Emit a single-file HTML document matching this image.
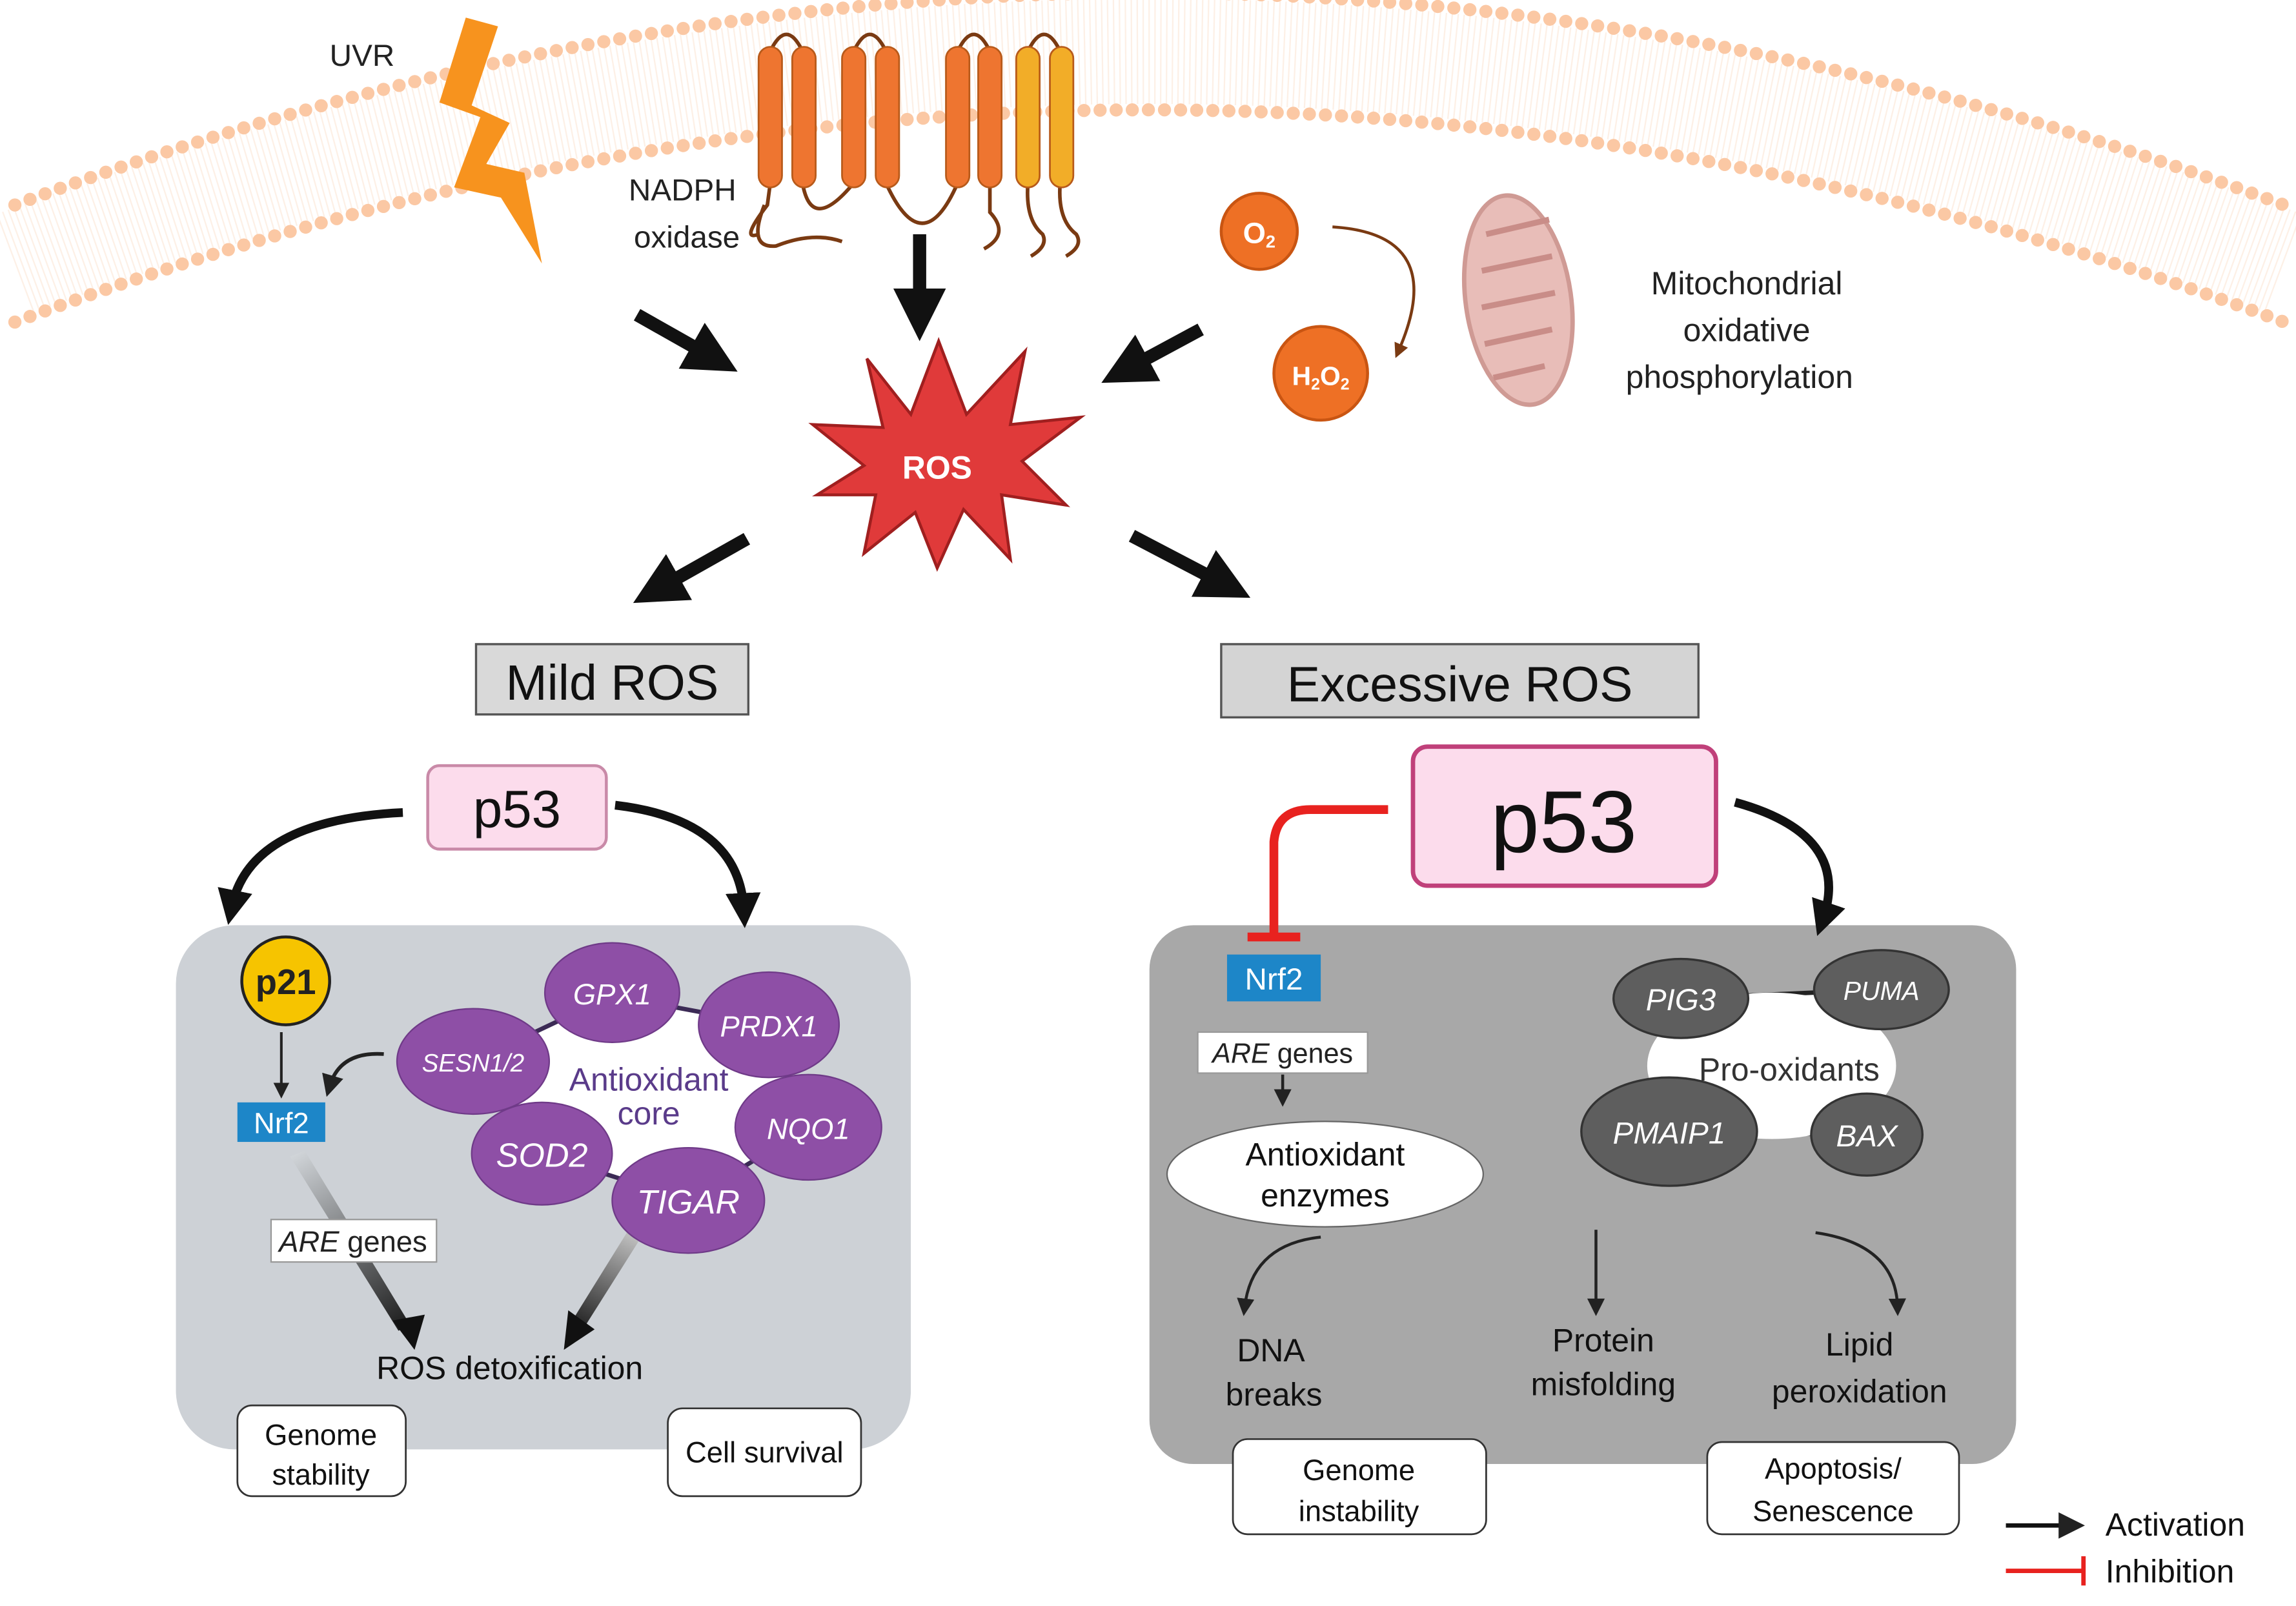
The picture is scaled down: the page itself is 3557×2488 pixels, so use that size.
<!DOCTYPE html>
<html><head><meta charset="utf-8"><style>
html,body{margin:0;padding:0;background:#fff;}
svg{display:block;}
text{font-family:"Liberation Sans","DejaVu Sans",sans-serif;}
</style></head><body>
<svg width="3557" height="2488" viewBox="0 0 1568 1097" xmlns="http://www.w3.org/2000/svg">
<defs>
<marker id="ah" viewBox="0 0 10 10" refX="5" refY="5" markerWidth="4" markerHeight="4" orient="auto"><path d="M0,0 L10,5 L0,10 z" fill="#111"/></marker>
<marker id="ahs" viewBox="0 0 10 10" refX="5" refY="5" markerWidth="6" markerHeight="6" orient="auto"><path d="M0,0 L10,5 L0,10 z" fill="#222"/></marker>
<marker id="ahb" viewBox="0 0 10 10" refX="5" refY="5" markerWidth="5" markerHeight="5" orient="auto"><path d="M0,0 L10,5 L0,10 z" fill="#7a3a12"/></marker>
<linearGradient id="g2" gradientUnits="userSpaceOnUse" x1="200" y1="790" x2="280" y2="915"><stop offset="0" stop-color="#d0d4d8"/><stop offset="1" stop-color="#111"/></linearGradient>
<linearGradient id="g3" gradientUnits="userSpaceOnUse" x1="430" y1="845" x2="395" y2="915"><stop offset="0" stop-color="#bbb"/><stop offset="1" stop-color="#111"/></linearGradient>
</defs>
<rect width="1568" height="1097" fill="#fff"/>
<!-- membrane -->
<path d="M10,180 Q784,-110 1560,180" fill="none" stroke="#fdf0e6" stroke-width="72" stroke-dasharray="1 3"/>
<path d="M10,140 Q784,-150 1560,140" fill="none" stroke="#fbc8a4" stroke-width="9" stroke-linecap="round" stroke-dasharray="0 11"/>
<path d="M10,220 Q784,-70 1560,220" fill="none" stroke="#fbc8a4" stroke-width="9" stroke-linecap="round" stroke-dasharray="0 11"/>
<!-- UVR -->
<text x="225" y="45" font-size="21" fill="#222">UVR</text>
<polygon points="318,12 300,70 328,80 310,128 342,135 370,180 358,118 332,112 348,84 322,72 340,18" fill="#f7931e"/>
<!-- NADPH oxidase -->
<g stroke="#7a3a12" stroke-width="2.5" fill="none">
<path d="M526,35 Q537,12 548,35"/><path d="M583,35 Q594,12 605,35"/><path d="M654,35 Q665,12 676,35"/><path d="M702,35 Q713,12 724,35"/>
<path d="M548,125 Q554,160 583,125"/><path d="M605,125 Q630,180 654,125"/>
<path d="M526,125 L524,140 Q505,165 518,160 M522,140 Q510,170 530,168 Q555,158 575,165"/>
<path d="M676,125 L676,145 Q690,160 672,170"/><path d="M702,125 Q700,150 712,160 Q716,168 704,175"/><path d="M724,125 Q722,150 735,160 Q740,168 728,175"/>
</g>
<g stroke="#b85a1a" stroke-width="1.2">
<rect x="518" y="32" width="16" height="96" rx="8" fill="#ee7530"/><rect x="541" y="32" width="16" height="96" rx="8" fill="#ee7530"/>
<rect x="575" y="32" width="16" height="96" rx="8" fill="#ee7530"/><rect x="598" y="32" width="16" height="96" rx="8" fill="#ee7530"/>
<rect x="646" y="32" width="16" height="96" rx="8" fill="#ee7530"/><rect x="668" y="32" width="16" height="96" rx="8" fill="#ee7530"/>
<rect x="694" y="32" width="16" height="96" rx="8" fill="#f2ad28"/><rect x="717" y="32" width="16" height="96" rx="8" fill="#f2ad28"/>
</g>
<text x="466" y="137" font-size="21" fill="#222" text-anchor="middle">NADPH</text>
<text x="469" y="169" font-size="21" fill="#222" text-anchor="middle">oxidase</text>
<!-- arrows to ROS -->
<g stroke="#111" stroke-width="9">
<line x1="435" y1="215" x2="488" y2="245" marker-end="url(#ah)"/>
<line x1="628" y1="160" x2="628" y2="215" marker-end="url(#ah)"/>
<line x1="820" y1="225" x2="768" y2="253" marker-end="url(#ah)"/>
<line x1="510" y1="368" x2="448" y2="403" marker-end="url(#ah)"/>
<line x1="773" y1="366" x2="838" y2="400" marker-end="url(#ah)"/>
</g>
<!-- O2 / H2O2 / mito -->
<circle cx="860" cy="158" r="26" fill="#ee7025" stroke="#c95512" stroke-width="2"/>
<text x="860" y="166" font-size="20" fill="#fff" text-anchor="middle" font-weight="bold">O<tspan font-size="12" dy="3">2</tspan></text>
<circle cx="902" cy="255" r="32" fill="#ee7025" stroke="#c95512" stroke-width="2"/>
<text x="902" y="263" font-size="18" fill="#fff" text-anchor="middle" font-weight="bold">H<tspan font-size="11" dy="3">2</tspan><tspan dy="-3">O</tspan><tspan font-size="11" dy="3">2</tspan></text>
<path d="M910,155 Q990,160 955,240" fill="none" stroke="#7a3a12" stroke-width="2" marker-end="url(#ahb)"/>
<ellipse cx="1037" cy="205" rx="36" ry="72" fill="#e8bdb8" stroke="#cf9a94" stroke-width="3" transform="rotate(-8 1037 205)"/>
<path d="M1015,160 L1058,150 M1012,185 L1060,175 M1012,210 L1062,200 M1014,235 L1060,225 M1020,258 L1055,250" stroke="#c98d88" stroke-width="4"/>
<text x="1193" y="201" font-size="22" fill="#222" text-anchor="middle">Mitochondrial</text>
<text x="1193" y="233" font-size="22" fill="#222" text-anchor="middle">oxidative</text>
<text x="1188" y="265" font-size="22" fill="#222" text-anchor="middle">phosphorylation</text>
<!-- ROS star -->
<polygon points="641,233 660,283 700,240 690,290 738,285 698,315 728,345 684,338 690,382 658,348 640,388 625,350 590,378 598,338 558,338 590,318 555,290 603,292 592,245 622,283" fill="#e03a3a" stroke="#a01f1f" stroke-width="2"/>
<text x="640" y="327" font-size="22" fill="#fff" text-anchor="middle" font-weight="bold">ROS</text>
<!-- header boxes -->
<rect x="325" y="440" width="186" height="48" fill="#d9d9d9" stroke="#555" stroke-width="1.5"/>
<text x="418" y="478" font-size="34" fill="#111" text-anchor="middle">Mild ROS</text>
<rect x="834" y="440" width="326" height="50" fill="#d4d4d4" stroke="#555" stroke-width="1.5"/>
<text x="997" y="479" font-size="34" fill="#111" text-anchor="middle">Excessive ROS</text>
<!-- panels -->
<rect x="120" y="632" width="502" height="358" rx="40" fill="#cdd1d6"/>
<rect x="785" y="632" width="592" height="368" rx="30" fill="#a8a8a8"/>
<!-- left p53 -->
<path d="M275,555 Q170,560 158,620" fill="none" stroke="#111" stroke-width="6" marker-end="url(#ah)"/>
<path d="M420,550 Q505,560 508,622" fill="none" stroke="#111" stroke-width="6" marker-end="url(#ah)"/>
<rect x="292" y="523" width="122" height="57" rx="8" fill="#fcdcec" stroke="#c98aa8" stroke-width="2"/>
<text x="353" y="565" font-size="36" fill="#111" text-anchor="middle">p53</text>
<!-- right p53 -->
<path d="M1185,548 Q1265,570 1245,628" fill="none" stroke="#111" stroke-width="6" marker-end="url(#ah)"/>
<path d="M948,553 L895,553 Q872,553 870,575 L870,638" fill="none" stroke="#e8221f" stroke-width="6"/>
<line x1="852" y1="640" x2="888" y2="640" stroke="#e8221f" stroke-width="6"/>
<rect x="965" y="510" width="207" height="95" rx="10" fill="#fcdcec" stroke="#c0407a" stroke-width="3"/>
<text x="1068" y="582" font-size="60" fill="#111" text-anchor="middle">p53</text>
<!-- p21 / Nrf2 left -->
<circle cx="195" cy="670" r="30" fill="#f6c400" stroke="#222" stroke-width="2"/>
<text x="195" y="679" font-size="24" fill="#222" text-anchor="middle" font-weight="bold">p21</text>
<line x1="192" y1="705" x2="192" y2="745" stroke="#222" stroke-width="1.8" marker-end="url(#ahs)"/>
<path d="M262,720 Q232,718 225,742" fill="none" stroke="#222" stroke-width="2.5" marker-end="url(#ahs)"/>
<rect x="162" y="753" width="60" height="27" fill="#1d86c8"/>
<text x="192" y="774" font-size="20" fill="#fff" text-anchor="middle">Nrf2</text>
<polygon points="198,790 208,786 280,905 272,909" fill="url(#g2)"/>
<polygon points="268,902 290,898 283,922" fill="#111"/>
<rect x="185" y="833" width="113" height="29" fill="#fff" stroke="#999"/>
<text x="241" y="855" font-size="20" fill="#222" text-anchor="middle"><tspan font-style="italic">ARE</tspan> genes</text>
<polygon points="428,842 436,848 400,905 392,900" fill="url(#g3)"/>
<polygon points="388,895 406,908 385,922" fill="#111"/>
<!-- antioxidant ring -->
<polygon points="418,680 525,700 552,770 470,820 370,788 323,725" fill="#fff" stroke="#3b2a55" stroke-width="3" stroke-linejoin="round"/>
<g fill="#8e4fa6" stroke="#6f3a88" stroke-width="1">
<ellipse cx="418" cy="678" rx="46" ry="34"/><ellipse cx="525" cy="700" rx="48" ry="36"/><ellipse cx="552" cy="770" rx="50" ry="36"/>
<ellipse cx="470" cy="820" rx="52" ry="36"/><ellipse cx="370" cy="788" rx="48" ry="35"/><ellipse cx="323" cy="725" rx="52" ry="36"/>
</g>
<g fill="#fff" font-style="italic" text-anchor="middle">
<text x="418" y="686" font-size="20">GPX1</text><text x="525" y="708" font-size="20">PRDX1</text><text x="552" y="778" font-size="20">NQO1</text>
<text x="470" y="829" font-size="23">TIGAR</text><text x="370" y="797" font-size="23">SOD2</text><text x="323" y="732" font-size="17">SESN1/2</text>
</g>
<text x="443" y="745" font-size="22" fill="#5a3b8a" text-anchor="middle">Antioxidant</text>
<text x="443" y="768" font-size="22" fill="#5a3b8a" text-anchor="middle">core</text>
<text x="348" y="942" font-size="22" fill="#111" text-anchor="middle">ROS detoxification</text>
<rect x="162" y="960" width="115" height="62" rx="10" fill="#fff" stroke="#333" stroke-width="1.2"/>
<text x="219" y="987" font-size="20" fill="#111" text-anchor="middle">Genome</text>
<text x="219" y="1014" font-size="20" fill="#111" text-anchor="middle">stability</text>
<rect x="456" y="962" width="132" height="60" rx="10" fill="#fff" stroke="#333" stroke-width="1.2"/>
<text x="522" y="999" font-size="20" fill="#111" text-anchor="middle">Cell survival</text>
<!-- right panel -->
<rect x="838" y="652" width="64" height="32" fill="#1d86c8"/>
<text x="870" y="676" font-size="21" fill="#fff" text-anchor="middle">Nrf2</text>
<rect x="818" y="705" width="116" height="28" fill="#fff" stroke="#999"/>
<text x="876" y="726" font-size="19" fill="#222" text-anchor="middle"><tspan font-style="italic">ARE</tspan> genes</text>
<line x1="876" y1="734" x2="876" y2="750" stroke="#222" stroke-width="2" marker-end="url(#ahs)"/>
<ellipse cx="905" cy="802" rx="108" ry="36" fill="#fff" stroke="#666"/>
<text x="905" y="796" font-size="22" fill="#111" text-anchor="middle">Antioxidant</text>
<text x="905" y="824" font-size="22" fill="#111" text-anchor="middle">enzymes</text>
<path d="M902,845 Q855,850 850,893" fill="none" stroke="#222" stroke-width="2" marker-end="url(#ahs)"/>
<text x="868" y="930" font-size="22" fill="#111" text-anchor="middle">DNA</text>
<text x="870" y="960" font-size="22" fill="#111" text-anchor="middle">breaks</text>
<polygon points="1148,682 1285,676 1275,775 1140,773" fill="#fff" stroke="#222" stroke-width="3" stroke-linejoin="round"/>
<ellipse cx="1210" cy="728" rx="85" ry="50" fill="#fff"/>
<g fill="#5e5e5e" stroke="#333" stroke-width="1.5">
<ellipse cx="1148" cy="682" rx="46" ry="27"/><ellipse cx="1285" cy="676" rx="46" ry="27"/>
<ellipse cx="1140" cy="773" rx="60" ry="37"/><ellipse cx="1275" cy="775" rx="38" ry="28"/>
</g>
<g fill="#fff" font-style="italic" text-anchor="middle">
<text x="1148" y="690" font-size="21">PIG3</text><text x="1285" y="683" font-size="18">PUMA</text>
<text x="1140" y="781" font-size="21">PMAIP1</text><text x="1275" y="783" font-size="21">BAX</text>
</g>
<text x="1222" y="738" font-size="22" fill="#333" text-anchor="middle">Pro-oxidants</text>
<line x1="1090" y1="840" x2="1090" y2="893" stroke="#222" stroke-width="2" marker-end="url(#ahs)"/>
<path d="M1240,842 Q1295,850 1296,893" fill="none" stroke="#222" stroke-width="2" marker-end="url(#ahs)"/>
<text x="1095" y="923" font-size="22" fill="#111" text-anchor="middle">Protein</text>
<text x="1095" y="953" font-size="22" fill="#111" text-anchor="middle">misfolding</text>
<text x="1270" y="926" font-size="22" fill="#111" text-anchor="middle">Lipid</text>
<text x="1270" y="958" font-size="22" fill="#111" text-anchor="middle">peroxidation</text>
<rect x="842" y="983" width="173" height="65" rx="10" fill="#fff" stroke="#333" stroke-width="1.2"/>
<text x="928" y="1011" font-size="20" fill="#111" text-anchor="middle">Genome</text>
<text x="928" y="1039" font-size="20" fill="#111" text-anchor="middle">instability</text>
<rect x="1166" y="985" width="172" height="63" rx="10" fill="#fff" stroke="#333" stroke-width="1.2"/>
<text x="1252" y="1010" font-size="20" fill="#111" text-anchor="middle">Apoptosis/</text>
<text x="1252" y="1039" font-size="20" fill="#111" text-anchor="middle">Senescence</text>
<!-- legend -->
<line x1="1370" y1="1042" x2="1415" y2="1042" stroke="#111" stroke-width="3" marker-end="url(#ahs)"/>
<text x="1438" y="1049" font-size="22" fill="#111">Activation</text>
<line x1="1370" y1="1073" x2="1423" y2="1073" stroke="#e8221f" stroke-width="3"/>
<line x1="1423" y1="1063" x2="1423" y2="1083" stroke="#e8221f" stroke-width="3"/>
<text x="1438" y="1081" font-size="22" fill="#111">Inhibition</text>
</svg>
</body></html>
